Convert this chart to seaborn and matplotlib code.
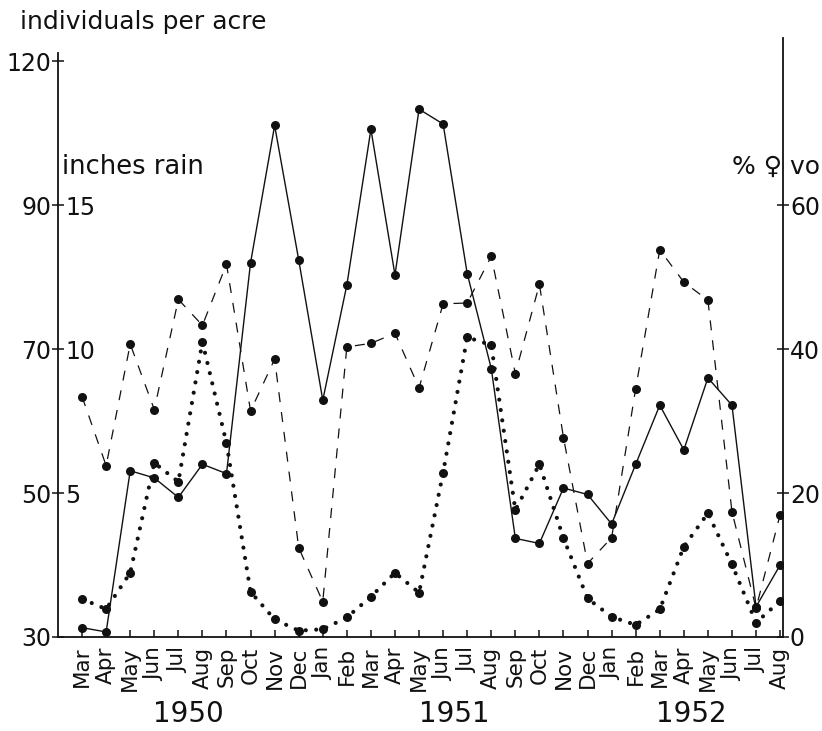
import numpy as np
import pandas as pd
import matplotlib
matplotlib.use("Agg")
import matplotlib.pyplot as plt
import seaborn as sns
from matplotlib.transforms import blended_transform_factory

# Monthly census, March 1950 - August 1952
months = ["Mar", "Apr", "May", "Jun", "Jul", "Aug", "Sep", "Oct", "Nov", "Dec",
          "Jan", "Feb", "Mar", "Apr", "May", "Jun", "Jul", "Aug", "Sep", "Oct", "Nov", "Dec",
          "Jan", "Feb", "Mar", "Apr", "May", "Jun", "Jul", "Aug"]
years = ["1950", "1951", "1952"]

# individuals per acre (solid line)
individuals = [31.3, 30.7, 53.1, 52.1, 49.4, 54.0, 52.7, 82.0, 106.6, 82.4,
               62.9, 78.9, 105.8, 80.3, 110.0, 106.9, 80.5, 67.3, 43.7, 43.0,
               50.7, 49.8, 45.7, 54.0, 62.2, 56.0, 66.0, 62.2, 34.2, 40.0]
# percent of females with vaginal opening (dashed line)
pct_female_vo = [33.4, 23.8, 40.7, 31.6, 46.9, 43.3, 51.8, 31.4, 38.6, 12.4,
                 4.9, 40.3, 40.8, 42.2, 34.6, 46.3, 46.4, 52.9, 36.6, 49.0,
                 27.7, 10.2, 13.8, 34.5, 53.8, 49.3, 46.8, 17.4, 4.0, 17.0]
# monthly rainfall in inches (dotted line)
rain_inches = [1.32, 0.97, 2.23, 6.05, 5.39, 10.25, 6.73, 1.57, 0.61, 0.22,
               0.27, 0.68, 1.40, 2.23, 1.54, 5.71, 10.41, 10.14, 4.41, 6.00,
               3.43, 1.34, 0.70, 0.42, 0.96, 3.14, 4.30, 2.52, 0.50, 1.25]

left_ticks = [30, 50, 70, 90, 120]
rain_ticks = [5, 10, 15]
pct_ticks = [0, 20, 40, 60]

df = pd.DataFrame({
    "month": np.arange(len(months)),
    "individuals": individuals,
    "pct": pct_female_vo,
    "rain": rain_inches,
})

sns.set_style("ticks")
plt.rcParams["font.family"] = ["DejaVu Sans"]
ink = "#111111"

fig = plt.figure(figsize=(8.22, 7.31), dpi=100)
ax = fig.add_axes([58 / 822, 94 / 731, 725 / 822, 601 / 731])


# the density axis is compressed above 90 (90 -> 120 spans the same as 70 -> 90)
def fwd(v):
    v = np.asarray(v, dtype=float)
    return np.where(v <= 90, v, 90 + (v - 90) * 2 / 3)


def inv(u):
    u = np.asarray(u, dtype=float)
    return np.where(u <= 90, u, 90 + (u - 90) * 1.5)


ax.set_yscale("function", functions=(fwd, inv))

ax2 = ax.twinx()   # percent ♀ vo
ax3 = ax.twinx()   # inches of rain

top_lin = 113.5
ax.set_ylim(30, float(inv(top_lin)))
ax2.set_ylim(0, top_lin - 30)
ax3.set_ylim(0, (top_lin - 30) / 4)
xlim = (-1.0, 29.12)
for a in (ax, ax2, ax3):
    a.set_xlim(*xlim)

mk = dict(marker="o", markersize=6.5, markeredgewidth=0, markerfacecolor=ink,
          color=ink, legend=False)

sns.lineplot(data=df, x="month", y="individuals", ax=ax, linewidth=1.0, **mk)
sns.lineplot(data=df, x="month", y="pct", ax=ax2, linewidth=0.9,
             linestyle=(0, (8, 8)), **mk)
sns.lineplot(data=df, x="month", y="rain", ax=ax3, linewidth=3.0,
             linestyle=(0, (0.01, 2.5)), dash_capstyle="round", **mk)

for a in (ax, ax2, ax3):
    a.set_xlabel("")
    a.set_ylabel("")

# spines
for a in (ax2, ax3):
    for s in a.spines.values():
        s.set_visible(False)
ax.spines["top"].set_visible(False)
ax.spines["right"].set_visible(False)
ax.spines["left"].set_bounds(30, float(inv(111.2)))
ax.spines["left"].set_linewidth(1.3)
ax.spines["bottom"].set_linewidth(1.3)
ax2.spines["right"].set_visible(True)
ax2.spines["right"].set_bounds(0, 83.2)
ax2.spines["right"].set_linewidth(1.3)
for a in (ax, ax2):
    for s in a.spines.values():
        s.set_color(ink)

# x axis: month names
ax.set_xticks(df["month"])
ax.set_xticklabels(months, rotation=90, fontsize=15.5, color=ink)
ax.tick_params(axis="x", direction="in", length=5, width=1.1, pad=7, colors=ink)
ax2.tick_params(axis="x", bottom=False, labelbottom=False)
ax3.tick_params(axis="x", bottom=False, labelbottom=False)

# left: individuals per acre
ax.yaxis.set_major_locator(matplotlib.ticker.FixedLocator(left_ticks))
ax.yaxis.set_minor_locator(matplotlib.ticker.NullLocator())
ax.set_yticklabels([str(t) for t in left_ticks], fontsize=17, color=ink)
ax.tick_params(axis="y", direction="inout", length=8, width=1.1, pad=1, colors=ink)

# inner left: inches rain
ax3.set_yticks(rain_ticks)
ax3.yaxis.set_ticks_position("left")
ax3.tick_params(axis="y", left=True, right=False, length=0, labelleft=True,
                labelright=False, pad=-5, labelsize=17, colors=ink)
ax3.set_yticklabels([str(t) for t in rain_ticks])
for lab in ax3.get_yticklabels():
    lab.set_horizontalalignment("left")

# right: percent ♀ vo
ax2.set_yticks(pct_ticks)
ax2.set_yticklabels([str(t) for t in pct_ticks], fontsize=17, color=ink)
ax2.tick_params(axis="y", direction="inout", length=8, width=1.1, pad=1, colors=ink)

# year labels under the month names
year_pos = [4.4, 15.45, 25.3]
trans = blended_transform_factory(ax.transData, ax.transAxes)
for yr, xp in zip(years, year_pos):
    ax.text(xp, -0.128, yr, transform=trans, ha="center", va="center",
            fontsize=20, color=ink)

# axis titles
fig.text(20 / 822, 1 - 22 / 731, "individuals per acre", ha="left", va="center",
         fontsize=18, color=ink)
fig.text(62 / 822, 1 - 167 / 731, "inches rain", ha="left", va="center",
         fontsize=18.5, color=ink)
fig.text(776 / 822, 1 - 167 / 731, "% ♀ vo", ha="center", va="center",
         fontsize=18, color=ink)

fig.savefig("out.png", dpi=100, facecolor="white")
